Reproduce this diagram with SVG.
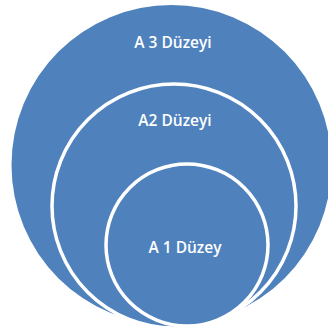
<svg xmlns="http://www.w3.org/2000/svg" width="328" height="331" viewBox="0 0 328 331">
<style>
.c{fill:#4F81BD}
.r{fill:#4F81BD;stroke:#FFFFFF;stroke-width:3.5}
.t{fill:#FFFFFF;font-family:"Open Sans","Liberation Sans",sans-serif;font-size:15.5px;font-weight:600;text-anchor:middle}
</style>
<rect width="328" height="331" fill="#FFFFFF"/>
<g id="level3">
<circle class="c" cx="171.5" cy="165" r="160"/>
<text class="t" x="173" y="47.5">A 3 Düzeyi</text>
</g>
<g id="level2">
<circle class="r" cx="174" cy="206" r="122"/>
<text class="t" x="175" y="126">A2 Düzeyi</text>
</g>
<g id="level1">
<circle class="r" cx="187" cy="245" r="81"/>
<text class="t" x="185" y="252.5">A 1 Düzey</text>
</g>
<g id="connectors"/>
</svg>
